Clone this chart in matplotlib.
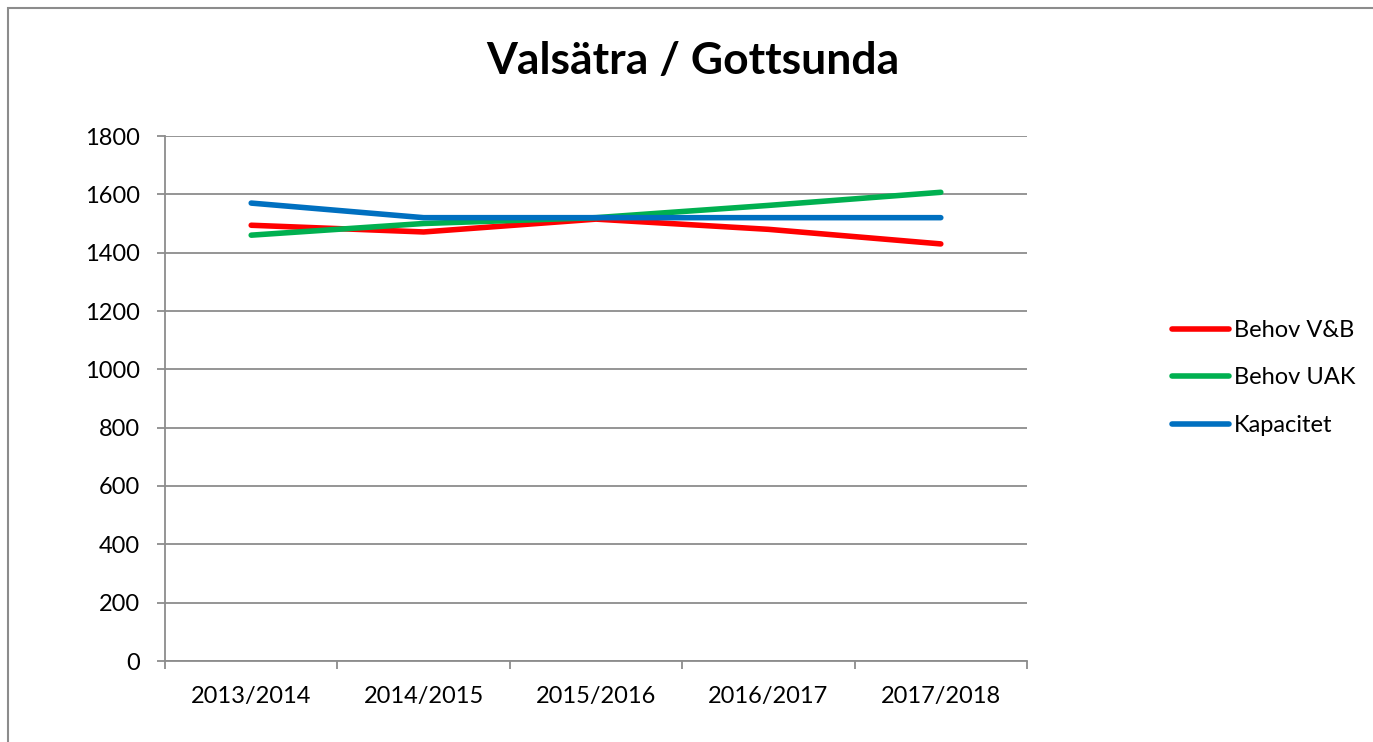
import matplotlib.pyplot as plt
from matplotlib.patches import Rectangle

plt.rcParams['font.family'] = ['Lato', 'DejaVu Sans']

years = ["2013/2014", "2014/2015", "2015/2016", "2016/2017", "2017/2018"]
behov_vb = [1494, 1471, 1515, 1480, 1430]
behov_uak = [1460, 1500, 1520, 1562, 1607]
kapacitet = [1570, 1520, 1520, 1520, 1520]

W, H = 1373, 742
fig = plt.figure(figsize=(W / 100, H / 100), dpi=100)

# outer chart frame (runs off the right/bottom edge)
fig.patches.append(Rectangle((8 / W, -0.1), 1.2, 1 - 8 / H + 0.1,
                             transform=fig.transFigure, fill=False,
                             edgecolor="#8c8c8c", linewidth=1.5))

ax = fig.add_axes([165 / W, (H - 661) / H, 862 / W, 525 / H])
x = range(len(years))
series = [(behov_vb, "#ff0000", "Behov V&B"),
          (behov_uak, "#00b050", "Behov UAK"),
          (kapacitet, "#0070c0", "Kapacitet")]
for vals, col, lab in series:
    ax.plot(x, vals, color=col, lw=4, label=lab,
            solid_capstyle="round", solid_joinstyle="round")

ax.set_xlim(-0.5, len(years) - 0.5)
ax.set_ylim(0, 1800)
ax.set_yticks(range(0, 1801, 200))
ax.yaxis.grid(True, color="#8c8c8c", lw=1.3)
ax.set_axisbelow(True)
ax.set_xticks(list(x))
ax.set_xticklabels(years)
ax.set_xticks([i - 0.5 for i in range(len(years) + 1)], minor=True)

for s in ["top", "right"]:
    ax.spines[s].set_visible(False)
for s in ["left", "bottom"]:
    ax.spines[s].set_color("#8c8c8c")
    ax.spines[s].set_linewidth(1.3)

ax.tick_params(axis="y", length=6, width=1.3, color="#8c8c8c", pad=12,
               labelsize=17)
ax.tick_params(axis="x", which="major", length=0, pad=18, labelsize=17)
ax.tick_params(axis="x", which="minor", length=6, width=1.3, color="#8c8c8c")

fig.text(693 / W, 1 - 61 / H, "Valsätra / Gottsunda", ha="center",
         va="center", fontsize=32, fontweight="bold")

fig.legend(loc="center left", bbox_to_anchor=(1151 / W, 1 - 378 / H),
           frameon=False, fontsize=17, handlelength=2.4, handletextpad=0.2,
           labelspacing=1.13)

fig.savefig("out.png", dpi=100)
